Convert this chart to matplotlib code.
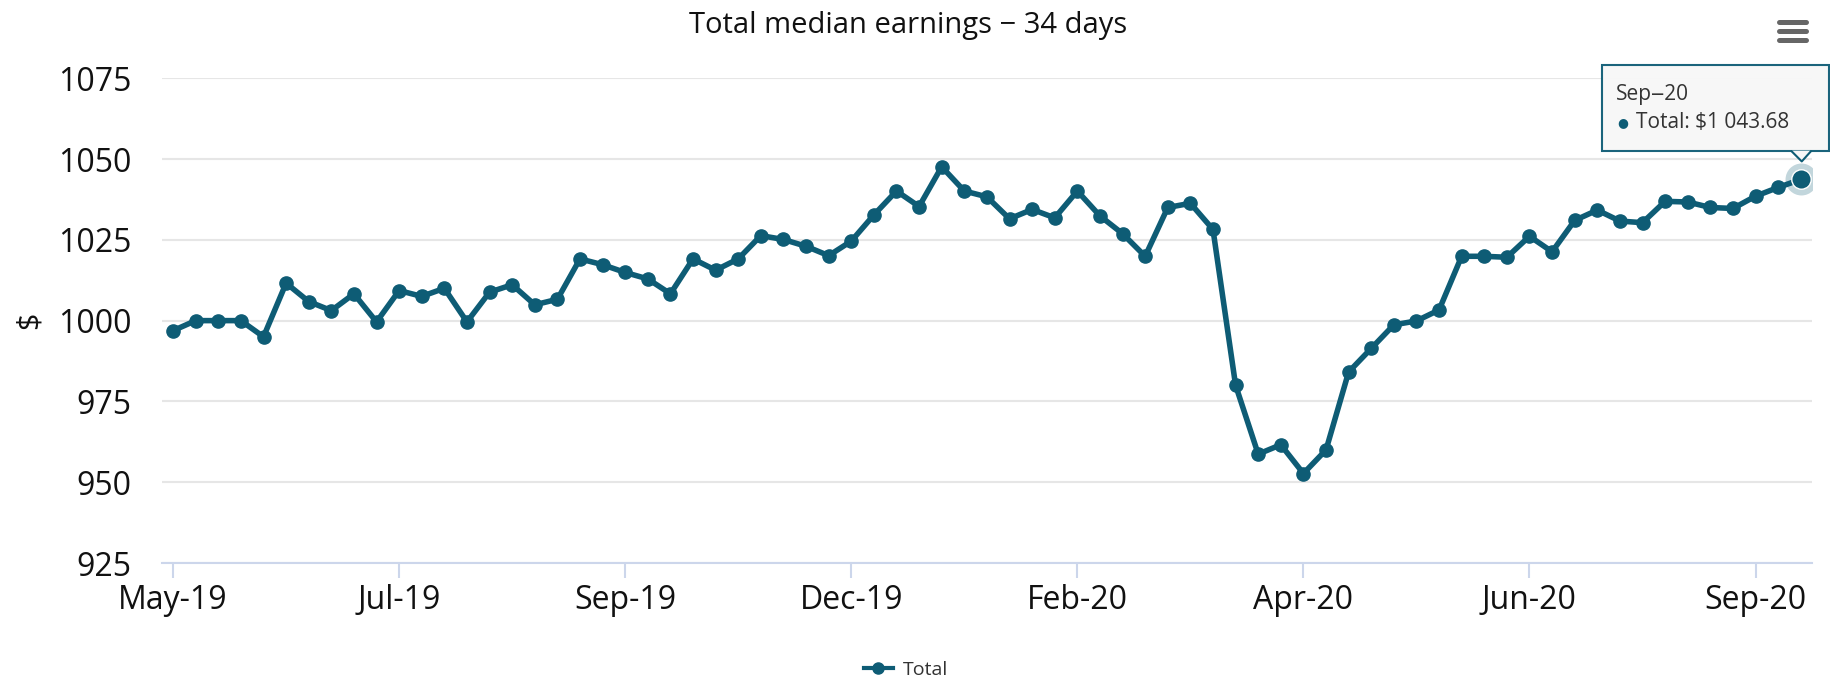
import numpy as np
import matplotlib.pyplot as plt
from matplotlib.lines import Line2D
from matplotlib.patches import Rectangle, Polygon
from matplotlib.transforms import IdentityTransform

# weekly total median earnings ($)
values = [996.9, 1000.0, 1000.0, 1000.0, 995.0, 1011.6, 1005.9, 1003.1, 1008.3, 999.6,
          1009.3, 1007.5, 1010.0, 999.6, 1008.8, 1011.1, 1004.9, 1006.6, 1019.1, 1017.3,
          1014.9, 1012.9, 1008.3, 1019.1, 1015.6, 1019.1, 1026.3, 1025.1, 1023.0, 1020.1,
          1024.6, 1032.7, 1040.1, 1035.3, 1047.6, 1040.1, 1038.3, 1031.5, 1034.4, 1031.8,
          1040.1, 1032.4, 1026.9, 1019.9, 1035.0, 1036.3, 1028.2, 980.0, 958.7, 961.6,
          952.7, 960.0, 984.1, 991.4, 998.7, 999.9, 1003.3, 1019.9, 1019.9, 1019.6,
          1026.1, 1021.3, 1031.0, 1034.2, 1030.8, 1030.3, 1036.9, 1036.7, 1035.0, 1034.7,
          1038.5, 1041.2, 1043.68]
tick_idx = [0, 10, 20, 30, 40, 50, 60, 70]
tick_labels = ['May-19', 'Jul-19', 'Sep-19', 'Dec-19', 'Feb-20', 'Apr-20', 'Jun-20', 'Sep-20']
y_ticks = [925, 950, 975, 1000, 1025, 1050, 1075]
series_name = 'Total'
hover_label = 'Sep\u201220'

color = '#0e5c75'
plt.rcParams['font.family'] = ['Open Sans', 'DejaVu Sans']

fig = plt.figure(figsize=(18.3, 6.8), dpi=100)
ax = fig.add_axes([0.0884, 0.172, 0.9018, 0.713])

x = np.arange(len(values))
ax.plot(x, values, color=color, lw=4, marker='o', ms=9.5, zorder=3)

ax.set_xlim(-0.5, len(values) - 0.5)
ax.set_ylim(925, 1075)
ax.set_yticks(y_ticks)
ax.set_xticks(tick_idx, tick_labels)
ax.grid(axis='y', color='#e6e6e6', lw=1.5)
ax.set_axisbelow(True)
for s in ['top', 'right', 'left']:
    ax.spines[s].set_visible(False)
ax.spines['bottom'].set_color('#ccd6eb')
ax.spines['bottom'].set_linewidth(1.5)
ax.tick_params(axis='y', length=0, pad=22, labelsize=23, labelcolor='#111111')
ax.tick_params(axis='x', length=11, width=1.5, color='#ccd6eb', pad=4, labelsize=23,
               labelcolor='#111111')
ax.set_ylabel(r'\$', fontsize=22, color='#111111')
ax.yaxis.set_label_coords(-0.071, 0.5)

fig.text(0.496, 1 - 26 / 680, 'Total median earnings \u2212 34 days', ha='center',
         va='center', fontsize=21, color='#111111')

# legend at the bottom
handle = Line2D([], [], color=color, lw=3, marker='o', ms=8)
fig.legend([handle], [series_name], loc='center', bbox_to_anchor=(0.495, 1 - 670 / 680),
           frameon=False, fontsize=14, handlelength=1.5, handletextpad=0.5,
           labelcolor='#333333')

# hamburger menu icon
for yy in [22, 31, 40]:
    fig.add_artist(Line2D([1779 / 1830, 1806 / 1830], [1 - yy / 680, 1 - yy / 680],
                          color='#666666', lw=3.6, solid_capstyle='round',
                          transform=fig.transFigure))

# hovered last point with halo and tooltip
last = len(values) - 1
ax.plot(last, values[last], 'o', ms=23, color=color, alpha=0.25, mec='none', zorder=4)
ax.plot(last, values[last], 'o', ms=14, color=color, mec='white', mew=1, zorder=5)

px, py = ax.transData.transform((last, values[last]))
ident = IdentityTransform()
fig.add_artist(Rectangle((px - 199, py + 28), 227, 86, transform=ident,
                         fc='#f7f7f7', ec=color, lw=1.5, alpha=0.95, zorder=10))
fig.add_artist(Polygon([(px - 9, py + 28.8), (px + 10, py + 28.8), (px + 1, py + 18)],
                       closed=True, transform=ident, fc='#f7f7f7', ec='none', zorder=11))
fig.add_artist(Line2D([px - 9, px + 1, px + 10], [py + 28, py + 18, py + 28],
                      color=color, lw=1.5, transform=ident, zorder=11))
fig.text(px - 185, py + 85, hover_label, transform=ident, ha='left', va='center',
         fontsize=15, color='#333333', zorder=12)
fig.text(px - 183, py + 57, '\u25cf', transform=ident, ha='left', va='center',
         fontsize=9, color=color, zorder=12)
total_txt = 'Total: $' + f'{values[last]:,.2f}'.replace(',', ' ')
fig.text(px - 165, py + 57, total_txt, transform=ident, ha='left', va='center',
         fontsize=15, color='#333333', zorder=12)

fig.savefig('out.png', dpi=100)
